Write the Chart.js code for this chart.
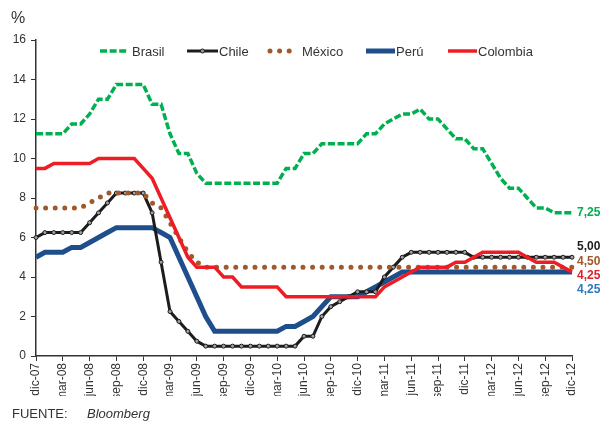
<!DOCTYPE html>
<html>
<head>
<meta charset="utf-8">
<script src="https://cdn.jsdelivr.net/npm/chart.js@4.4.1/dist/chart.umd.min.js"></script>
<style>
  html, body { margin: 0; padding: 0; background: #fff; }
  #wrap { width: 602px; height: 422px; }
</style>
</head>
<body>
<div id="wrap"><canvas id="chart" width="602" height="422"></canvas></div>
<script>
// Tasas de política monetaria (%), mensual dic-07 a dic-12
const months = [
  'dic-07',
  'ene-08', 'feb-08', 'mar-08', 'abr-08', 'may-08', 'jun-08', 'jul-08', 'ago-08', 'sep-08', 'oct-08', 'nov-08', 'dic-08',
  'ene-09', 'feb-09', 'mar-09', 'abr-09', 'may-09', 'jun-09', 'jul-09', 'ago-09', 'sep-09', 'oct-09', 'nov-09', 'dic-09',
  'ene-10', 'feb-10', 'mar-10', 'abr-10', 'may-10', 'jun-10', 'jul-10', 'ago-10', 'sep-10', 'oct-10', 'nov-10', 'dic-10',
  'ene-11', 'feb-11', 'mar-11', 'abr-11', 'may-11', 'jun-11', 'jul-11', 'ago-11', 'sep-11', 'oct-11', 'nov-11', 'dic-11',
  'ene-12', 'feb-12', 'mar-12', 'abr-12', 'may-12', 'jun-12', 'jul-12', 'ago-12', 'sep-12', 'oct-12', 'nov-12', 'dic-12'
];

const brasil = [
  11.25,
  11.25, 11.25, 11.25, 11.75, 11.75, 12.25, 13.0, 13.0, 13.75, 13.75, 13.75, 13.75,
  12.75, 12.75, 11.25, 10.25, 10.25, 9.25, 8.75, 8.75, 8.75, 8.75, 8.75, 8.75,
  8.75, 8.75, 8.75, 9.5, 9.5, 10.25, 10.25, 10.75, 10.75, 10.75, 10.75, 10.75,
  11.25, 11.25, 11.75, 12.0, 12.25, 12.25, 12.5, 12.0, 12.0, 11.5, 11.0, 11.0,
  10.5, 10.5, 9.75, 9.0, 8.5, 8.5, 8.0, 7.5, 7.5, 7.25, 7.25, 7.25
];

const chile = [
  6.0,
  6.25, 6.25, 6.25, 6.25, 6.25, 6.75, 7.25, 7.75, 8.25, 8.25, 8.25, 8.25,
  7.25, 4.75, 2.25, 1.75, 1.25, 0.75, 0.5, 0.5, 0.5, 0.5, 0.5, 0.5,
  0.5, 0.5, 0.5, 0.5, 0.5, 1.0, 1.0, 2.0, 2.5, 2.75, 3.0, 3.25,
  3.25, 3.25, 4.0, 4.5, 5.0, 5.25, 5.25, 5.25, 5.25, 5.25, 5.25, 5.25,
  5.0, 5.0, 5.0, 5.0, 5.0, 5.0, 5.0, 5.0, 5.0, 5.0, 5.0, 5.0
];

const mexico = [
  7.5,
  7.5, 7.5, 7.5, 7.5, 7.5, 7.75, 8.0, 8.25, 8.25, 8.25, 8.25, 8.25,
  7.75, 7.5, 6.75, 6.0, 5.25, 4.75, 4.5, 4.5, 4.5, 4.5, 4.5, 4.5,
  4.5, 4.5, 4.5, 4.5, 4.5, 4.5, 4.5, 4.5, 4.5, 4.5, 4.5, 4.5,
  4.5, 4.5, 4.5, 4.5, 4.5, 4.5, 4.5, 4.5, 4.5, 4.5, 4.5, 4.5,
  4.5, 4.5, 4.5, 4.5, 4.5, 4.5, 4.5, 4.5, 4.5, 4.5, 4.5, 4.5
];

const peru = [
  5.0,
  5.25, 5.25, 5.25, 5.5, 5.5, 5.75, 6.0, 6.25, 6.5, 6.5, 6.5, 6.5,
  6.5, 6.25, 6.0, 5.0, 4.0, 3.0, 2.0, 1.25, 1.25, 1.25, 1.25, 1.25,
  1.25, 1.25, 1.25, 1.5, 1.5, 1.75, 2.0, 2.5, 3.0, 3.0, 3.0, 3.0,
  3.25, 3.5, 3.75, 4.0, 4.25, 4.25, 4.25, 4.25, 4.25, 4.25, 4.25, 4.25,
  4.25, 4.25, 4.25, 4.25, 4.25, 4.25, 4.25, 4.25, 4.25, 4.25, 4.25, 4.25
];

const colombia = [
  9.5,
  9.5, 9.75, 9.75, 9.75, 9.75, 9.75, 10.0, 10.0, 10.0, 10.0, 10.0, 9.5,
  9.0, 8.0, 7.0, 6.0, 5.0, 4.5, 4.5, 4.5, 4.0, 4.0, 3.5, 3.5,
  3.5, 3.5, 3.5, 3.0, 3.0, 3.0, 3.0, 3.0, 3.0, 3.0, 3.0, 3.0,
  3.0, 3.0, 3.5, 3.75, 4.0, 4.25, 4.5, 4.5, 4.5, 4.5, 4.75, 4.75,
  5.0, 5.25, 5.25, 5.25, 5.25, 5.25, 5.0, 4.75, 4.75, 4.75, 4.5, 4.25
];

const FONT = '"Liberation Sans", Arial, sans-serif';
Chart.defaults.font.family = FONT;
Chart.defaults.color = '#333';

const datasets = [
  {
    label: 'Brasil', data: brasil, borderColor: '#00b050', borderWidth: 3.5,
    borderDash: [7, 2.6], pointRadius: 0, order: 5,
    endColor: '#00b050', endOffset: 0,
    legend: { x: 100, w: 28, tx: 132 }
  },
  {
    label: 'Chile', data: chile, borderColor: '#1c1c1c', borderWidth: 3,
    pointRadius: 2, pointBorderWidth: 1, pointBorderColor: '#1c1c1c', pointBackgroundColor: '#a0a0a0', order: 3,
    endColor: '#1c1c1c', endOffset: -11,
    legend: { x: 187, w: 31, tx: 219 }
  },
  {
    label: 'México', data: mexico, borderColor: '#a0592b', borderWidth: 5,
    borderDash: [0, 9.6], borderCapStyle: 'round', pointRadius: 0, order: 2,
    endColor: '#a0592b', endOffset: -5,
    legend: { x: 270, w: 21, tx: 302 }
  },
  {
    label: 'Perú', data: peru, borderColor: '#1f4e8c', borderWidth: 5, pointRadius: 0, order: 4,
    endColor: '#2f78c0', endOffset: 18,
    legend: { x: 366, w: 29, tx: 396 }
  },
  {
    label: 'Colombia', data: colombia, borderColor: '#ee1c25', borderWidth: 3.5, pointRadius: 0, order: 1,
    endColor: '#d9232e', endOffset: 4,
    legend: { x: 448, w: 29, tx: 478 }
  }
];

// legend, "%" label, end values and source note
const extras = {
  id: 'extras',
  afterDraw(chart) {
    const ctx = chart.ctx;
    const y = chart.scales.y;
    ctx.save();

    ctx.fillStyle = '#333';
    ctx.font = '16px ' + FONT;
    ctx.textBaseline = 'middle';
    ctx.textAlign = 'left';
    ctx.fillText('%', 11, 19);

    // legend
    datasets.forEach(function (ds) {
      const L = ds.legend;
      const ly = 51;
      ctx.save();
      ctx.strokeStyle = ds.borderColor;
      ctx.lineWidth = ds.borderWidth;
      ctx.lineCap = ds.borderCapStyle || 'butt';
      ctx.setLineDash(ds.borderDash || []);
      ctx.beginPath();
      ctx.moveTo(L.x, ly);
      ctx.lineTo(L.x + L.w, ly);
      ctx.stroke();
      if (ds.pointRadius) {
        ctx.setLineDash([]);
        ctx.lineWidth = 1;
        ctx.fillStyle = ds.pointBackgroundColor;
        ctx.beginPath();
        ctx.arc(L.x + L.w / 2, ly, 2, 0, Math.PI * 2);
        ctx.fill();
        ctx.stroke();
      }
      ctx.restore();
      ctx.fillStyle = '#333';
      ctx.font = '13px ' + FONT;
      ctx.fillText(ds.label, L.tx, ly + 1);
    });

    // end values
    ctx.font = 'bold 12px ' + FONT;
    datasets.forEach(function (ds) {
      const last = ds.data[ds.data.length - 1];
      ctx.fillStyle = ds.endColor;
      ctx.fillText(last.toFixed(2).replace('.', ','), 577, y.getPixelForValue(last) + ds.endOffset);
    });

    // source
    ctx.fillStyle = '#333';
    ctx.font = '13px ' + FONT;
    ctx.fillText('FUENTE:', 12, 414);
    ctx.font = 'italic 13px ' + FONT;
    ctx.fillText('Bloomberg', 87, 414);
    ctx.restore();
  }
};

new Chart(document.getElementById('chart'), {
  type: 'line',
  data: { labels: months, datasets: datasets },
  options: {
    responsive: false,
    animation: false,
    devicePixelRatio: 1,
    layout: { padding: { left: 0, right: 30, top: 40, bottom: 26 } },
    elements: { line: { tension: 0, fill: false } },
    plugins: { legend: { display: false }, tooltip: { enabled: false } },
    scales: {
      x: {
        offset: false,
        afterFit: function (scale) { scale.height = 40; },
        border: { display: true, color: '#333', width: 1.5 },
        grid: {
          drawOnChartArea: false, drawTicks: true, tickLength: 5,
          tickColor: function (c) { return c.index % 3 === 0 ? '#333' : 'rgba(0,0,0,0)'; }
        },
        ticks: {
          autoSkip: false, minRotation: 90, maxRotation: 90, padding: 2,
          font: { size: 12 }, color: '#333',
          callback: function (v, i) { return i % 3 === 0 ? months[i] : ''; }
        }
      },
      y: {
        min: 0, max: 16,
        afterFit: function (scale) { scale.width = 36; },
        border: { display: true, color: '#333', width: 1.5 },
        grid: { drawOnChartArea: false, drawTicks: true, tickLength: 5, tickColor: '#333' },
        ticks: { stepSize: 2, padding: 5, font: { size: 12 }, color: '#333' }
      }
    }
  },
  plugins: [extras]
});
</script>
</body>
</html>
